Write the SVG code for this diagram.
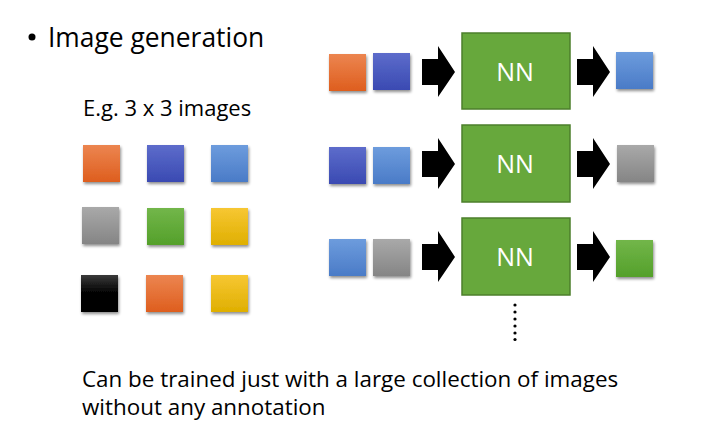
<svg xmlns="http://www.w3.org/2000/svg" width="726" height="436" viewBox="0 0 726 436">
<defs>
<linearGradient id="gOr" x1="0" y1="0" x2="0" y2="1"><stop offset="0" stop-color="#EC8550"/><stop offset="1" stop-color="#DE5E1E"/></linearGradient>
<linearGradient id="gBl" x1="0" y1="0" x2="0" y2="1"><stop offset="0" stop-color="#5D6CCB"/><stop offset="1" stop-color="#3A4AB2"/></linearGradient>
<linearGradient id="gLb" x1="0" y1="0" x2="0" y2="1"><stop offset="0" stop-color="#6D9CDD"/><stop offset="1" stop-color="#4A7BC7"/></linearGradient>
<linearGradient id="gGr" x1="0" y1="0" x2="0" y2="1"><stop offset="0" stop-color="#A9A9A9"/><stop offset="1" stop-color="#858585"/></linearGradient>
<linearGradient id="gGn" x1="0" y1="0" x2="0" y2="1"><stop offset="0" stop-color="#72B64A"/><stop offset="1" stop-color="#54A02A"/></linearGradient>
<linearGradient id="gYe" x1="0" y1="0" x2="0" y2="1"><stop offset="0" stop-color="#F7C733"/><stop offset="1" stop-color="#DFAF00"/></linearGradient>
<linearGradient id="gBk" x1="0" y1="0" x2="0" y2="1"><stop offset="0" stop-color="#3A3A3A"/><stop offset="0.5" stop-color="#000"/><stop offset="1" stop-color="#000"/></linearGradient>
<filter id="sh" x="-20%" y="-20%" width="150%" height="150%">
<feGaussianBlur in="SourceAlpha" stdDeviation="1.5"/>
<feOffset dx="1" dy="2" result="b"/>
<feComponentTransfer><feFuncA type="linear" slope="0.45"/></feComponentTransfer>
<feMerge><feMergeNode/><feMergeNode in="SourceGraphic"/></feMerge>
</filter>
<path id="arr" d="M0,-13 H16 V-26 L33,0 L16,25 V13 H0 Z"/>
</defs>
<style>
.t{font-family:"Open Sans",Lato,sans-serif;fill:#000}
.sq{filter:url(#sh)}
.nn{fill:#67A83C;stroke:#4C7F2B;stroke-width:1.5}
.nt{font-family:"Open Sans",Lato,sans-serif;fill:#fff;font-size:25px;font-weight:500;text-anchor:middle}
</style>

<g id="title">
<circle cx="32" cy="37" r="3.5" fill="#000"/>
<text class="t" x="48" y="47" font-size="26.4">Image generation</text>
</g>

<g id="grid">
<text class="t" x="83" y="116" font-size="22">E.g. 3 x 3 images</text>
<rect class="sq" x="83" y="145" width="37" height="37" fill="url(#gOr)"/>
<rect class="sq" x="147" y="145" width="37" height="37" fill="url(#gBl)"/>
<rect class="sq" x="211" y="145" width="37" height="37" fill="url(#gLb)"/>
<rect class="sq" x="82" y="207" width="37" height="37" fill="url(#gGr)"/>
<rect class="sq" x="147" y="208" width="37" height="37" fill="url(#gGn)"/>
<rect class="sq" x="211" y="208" width="37" height="37" fill="url(#gYe)"/>
<rect class="sq" x="81" y="275" width="37" height="37" fill="url(#gBk)"/>
<rect class="sq" x="146" y="275" width="37" height="37" fill="url(#gOr)"/>
<rect class="sq" x="211" y="275" width="37" height="37" fill="url(#gYe)"/>
</g>

<g id="row1">
<rect class="sq" x="329" y="54" width="37" height="37" fill="url(#gOr)"/>
<rect class="sq" x="373" y="53" width="37" height="37" fill="url(#gBl)"/>
<rect class="nn" x="462" y="33" width="108" height="76"/>
<text class="nt" x="515" y="81">NN</text>
<rect class="sq" x="616" y="52" width="37" height="37" fill="url(#gLb)"/>
</g>

<g id="row2">
<rect class="sq" x="329" y="147" width="37" height="37" fill="url(#gBl)"/>
<rect class="sq" x="373" y="147" width="37" height="37" fill="url(#gLb)"/>
<rect class="nn" x="462" y="125" width="108" height="77"/>
<text class="nt" x="515" y="173">NN</text>
<rect class="sq" x="617" y="145" width="37" height="37" fill="url(#gGr)"/>
</g>

<g id="row3">
<rect class="sq" x="329" y="239" width="37" height="37" fill="url(#gLb)"/>
<rect class="sq" x="373" y="239" width="37" height="37" fill="url(#gGr)"/>
<rect class="nn" x="462" y="218" width="108" height="77"/>
<text class="nt" x="515" y="266">NN</text>
<rect class="sq" x="616" y="240" width="37" height="37" fill="url(#gGn)"/>
</g>

<g id="connectors" fill="#000">
<use href="#arr" x="422" y="72"/>
<use href="#arr" x="577" y="72"/>
<use href="#arr" x="422" y="164"/>
<use href="#arr" x="577" y="164"/>
<use href="#arr" x="422" y="257"/>
<use href="#arr" x="577" y="257"/>
<g id="dots">
<circle cx="515" cy="305" r="1.6"/>
<circle cx="515" cy="312" r="1.6"/>
<circle cx="515" cy="319" r="1.6"/>
<circle cx="515" cy="326" r="1.6"/>
<circle cx="515" cy="333" r="1.6"/>
<circle cx="515" cy="339.5" r="1.6"/>
</g>
</g>

<g id="caption">
<text class="t" font-size="22.4"><tspan x="82" y="387">Can be trained just with a large collection of images</tspan><tspan x="82" y="415">without any annotation</tspan></text>
</g>
</svg>
